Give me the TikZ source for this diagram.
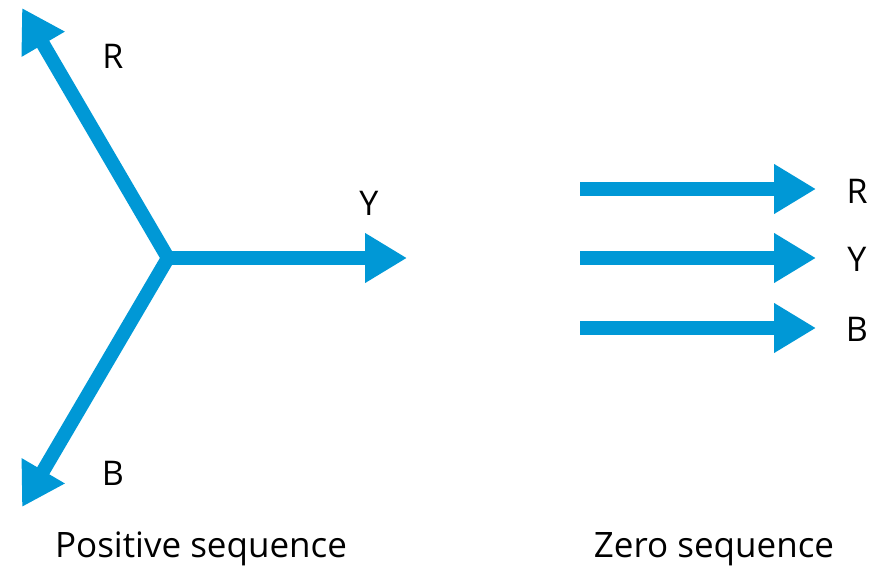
\documentclass[tikz,border=0pt]{standalone}
\usepackage{fontspec}
\setmainfont{Open Sans}
\usetikzlibrary{arrows.meta}
\definecolor{phase}{RGB}{0,152,214}
\tikzset{
  vec/.style={draw=phase, line width=14pt, -{Triangle[length=42pt,width=47pt]}},
  lbl/.style={font=\fontsize{34}{40}\selectfont, inner sep=0pt, anchor=center},
  captext/.style={font=\fontsize{35}{40}\selectfont, inner sep=0pt, anchor=center}
}
\begin{document}
\begin{tikzpicture}[x=1pt,y=-1pt]
\useasboundingbox (0,0) rectangle (877,569);
% positive sequence
\coordinate (O) at (168,258);
\coordinate (Rt) at (22,8);
\coordinate (Yt) at (407,258);
\coordinate (Bt) at (22,507);
\draw[vec] (O) -- (Rt);
\draw[vec] (O) -- (Yt);
\draw[vec] (O) -- (Bt);
\fill[phase] (O) circle (7pt);
\node[lbl] (Rl) at (113,56) {R};
\node[lbl] (Yl) at (369,203) {Y};
\node[lbl] (Bl) at (113,473) {B};
\node[captext] (pc) at (201,549) {Positive sequence};
% zero sequence
\coordinate (zr0) at (580,189);
\coordinate (zr1) at (816,189);
\coordinate (zy0) at (580,258);
\coordinate (zy1) at (816,258);
\coordinate (zb0) at (580,328);
\coordinate (zb1) at (816,328);
\draw[vec] (zr0) -- (zr1);
\draw[vec] (zy0) -- (zy1);
\draw[vec] (zb0) -- (zb1);
\node[lbl] (zR) at (857,191) {R};
\node[lbl] (zY) at (857,259) {Y};
\node[lbl] (zB) at (857,329) {B};
\node[captext] (zc) at (714,549) {Zero sequence};
\end{tikzpicture}
\end{document}
